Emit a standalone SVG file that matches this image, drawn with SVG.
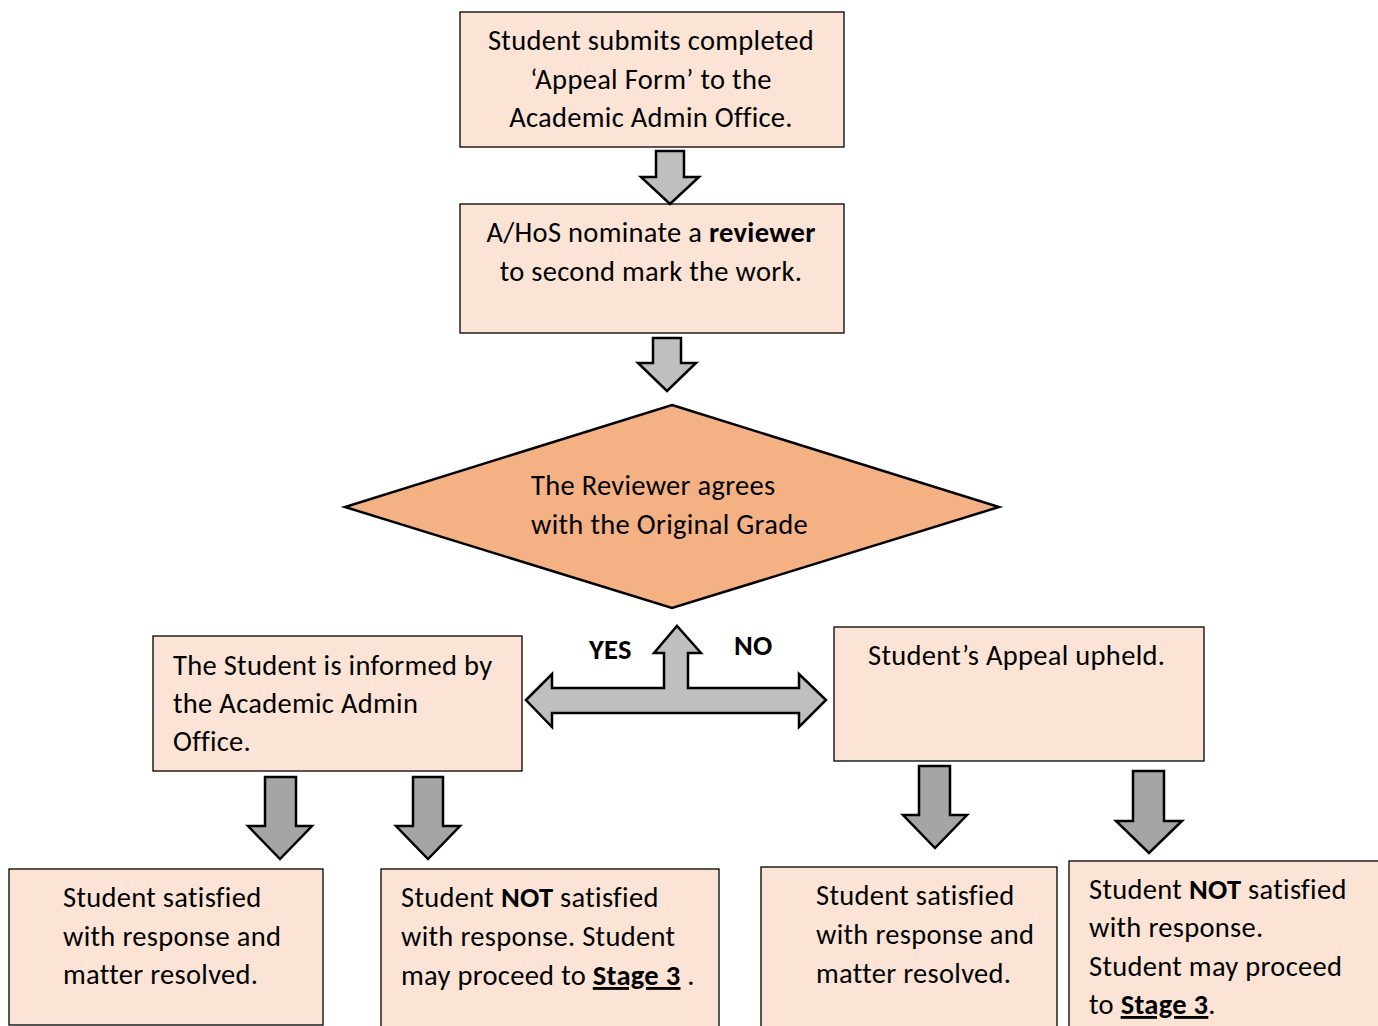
<svg xmlns="http://www.w3.org/2000/svg" width="1378" height="1026" viewBox="0 0 1378 1026">
<style>
.box{fill:#fbe4d5;stroke:#000;stroke-width:1.3}
.dia{fill:#f4b183;stroke:#000;stroke-width:2.5}
.arL{fill:#bfbfbf;stroke:#000;stroke-width:2.5;stroke-linejoin:miter}
.arD{fill:#a5a5a5;stroke:#000;stroke-width:2.5;stroke-linejoin:miter}
text{font-family:Carlito,Lato,"Liberation Sans",sans-serif;font-size:28.5px;letter-spacing:0.3px;fill:#000}
.b{font-weight:bold}
.c{text-anchor:middle}
</style>
<rect width="1378" height="1026" fill="#fff"/>
<g id="n1"><rect class="box" x="460" y="12" width="384" height="135"/>
<text class="c" x="651" y="50">Student submits completed</text>
<text class="c" x="651" y="89">‘Appeal Form’ to the</text>
<text class="c" x="651" y="127">Academic Admin Office.</text></g>
<g id="n2"><rect class="box" x="460" y="204" width="384" height="129"/>
<text class="c" x="651" y="242">A/HoS nominate a <tspan class="b">reviewer</tspan></text>
<text class="c" x="651" y="281">to second mark the work.</text></g>
<g id="n3"><polygon class="dia" points="672,405 999,507 672,608 345,507"/>
<text x="531" y="495">The Reviewer agrees</text>
<text x="531" y="534">with the Original Grade</text></g>
<g id="n4"><rect class="box" x="153" y="636" width="369" height="135"/>
<text x="173" y="675">The Student is informed by</text>
<text x="173" y="713">the Academic Admin</text>
<text x="173" y="751">Office.</text></g>
<g id="n5"><rect class="box" x="834" y="627" width="370" height="134"/>
<text x="868" y="665">Student’s Appeal upheld.</text></g>
<g id="n6"><rect class="box" x="9" y="869" width="314" height="156"/>
<text x="63" y="907">Student satisfied</text>
<text x="63" y="946">with response and</text>
<text x="63" y="984">matter resolved.</text></g>
<g id="n7"><rect class="box" x="381" y="869" width="338" height="160"/>
<text x="401" y="907">Student <tspan class="b">NOT</tspan> satisfied</text>
<text x="401" y="946">with response. Student</text>
<text x="401" y="985">may proceed to <tspan class="b" text-decoration="underline">Stage 3</tspan> .</text></g>
<g id="n8"><rect class="box" x="761" y="867" width="296" height="162"/>
<text x="816" y="905">Student satisfied</text>
<text x="816" y="944">with response and</text>
<text x="816" y="983">matter resolved.</text></g>
<g id="n9"><rect class="box" x="1069" y="861" width="315" height="168"/>
<text x="1089" y="899">Student <tspan class="b">NOT</tspan> satisfied</text>
<text x="1089" y="937">with response.</text>
<text x="1089" y="976">Student may proceed</text>
<text x="1089" y="1014">to <tspan class="b" text-decoration="underline">Stage 3</tspan>.</text></g>
<g id="connectors">
<polygon class="arL" points="656,151 684,151 684,177 699,177 670,204 641,177 656,177"/>
<polygon class="arL" points="653,338 681,338 681,363 696,363 667,391 638,363 653,363"/>
<polygon class="arL" points="526,700 552,674 552,688 664,688 664,653 654,653 677,626 701,653 688,653 688,688 799,688 799,674 826,700 799,727 799,713 552,713 552,727"/>
<polygon class="arD" points="265,777 296,777 296,826 312,826 280,859 248,826 265,826"/>
<polygon class="arD" points="413,777 443,777 443,826 460,826 428,859 396,826 413,826"/>
<polygon class="arD" points="919,766 950,766 950,815 967,815 935,848 903,815 919,815"/>
<polygon class="arD" points="1133,771 1164,771 1164,821 1182,821 1149,853 1116,821 1133,821"/>
<text class="b" x="589" y="659">YES</text>
<text class="b" x="734" y="655">NO</text>
</g>
</svg>
